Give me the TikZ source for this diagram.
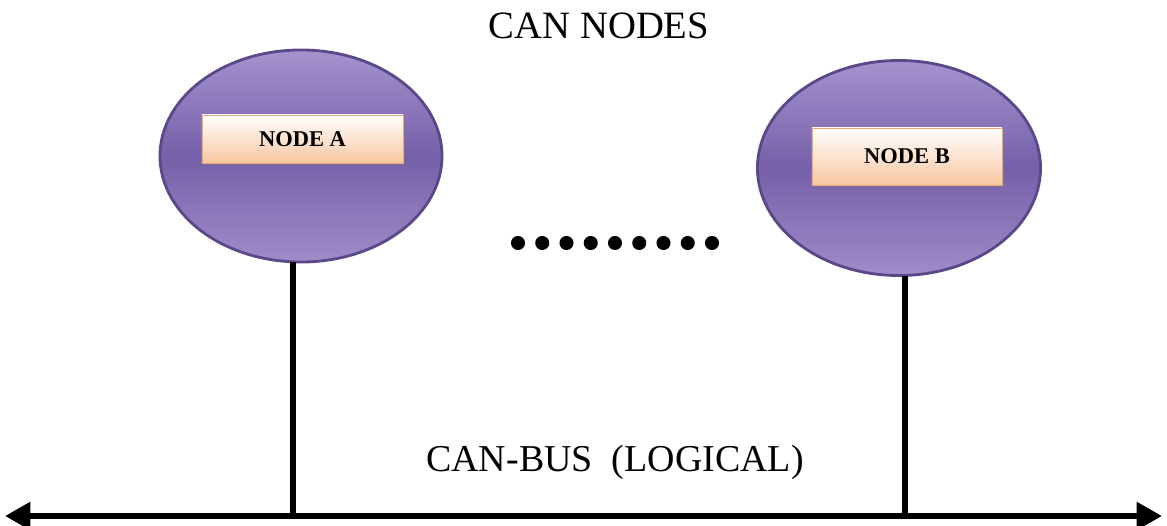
\documentclass[tikz,border=0pt]{standalone}
\usepackage{fontspec}
\setmainfont{Liberation Serif}
\usetikzlibrary{shapes.geometric,arrows.meta,shadows}
\definecolor{nodetop}{HTML}{A592CE}
\definecolor{nodemid}{HTML}{7560A9}
\definecolor{nodebot}{HTML}{A08CC9}
\definecolor{nodeedge}{HTML}{5A4889}
\definecolor{peach}{HTML}{F8C6A0}
\definecolor{peachedge}{HTML}{E9A77A}
\tikzset{
  canode/.style={ellipse, draw=nodeedge, line width=2pt, inner sep=0, outer sep=0,
    top color=nodetop, bottom color=nodebot, middle color=nodemid},
  label box/.style={rectangle, draw=peachedge, line width=0.6pt, inner sep=0,
    top color=white, bottom color=peach, font=\bfseries\fontsize{16}{16}\selectfont,
    drop shadow={shadow xshift=1.2pt, shadow yshift=-1.6pt, opacity=0.35}},
  dot/.style={inner sep=0, minimum size=10pt, fill=black, circle},
  tap/.style={line width=3.6pt},
  bus/.style={line width=4.3pt, {Triangle[length=18pt,width=19pt]}-{Triangle[length=18pt,width=19pt]}}
}

\begin{document}
\begin{tikzpicture}[x=0.025cm, y=-0.025cm]
    \useasboundingbox (0,0) rectangle (1167,526);

    \node[font=\fontsize{27.5}{27.5}\selectfont] (title) at (599,26) {CAN NODES};

    % the two nodes
    \node[canode, minimum width=7.05cm, minimum height=5.3cm] (canA) at (301,156) {};
    \node[canode, minimum width=7.075cm, minimum height=5.375cm] (canB) at (899,168) {};
    \node[label box, minimum width=5.025cm, minimum height=1.2cm] (boxA) at (302.5,139) {NODE A};
    \node[label box, minimum width=4.75cm, minimum height=1.425cm] (boxB) at (907,156.5) {NODE B};

    \foreach \x in {0,1,...,8}
    {
      \node[dot] (d\x) at (518+\x*24.25, 243) {};
    }

    % bus and taps
    \coordinate (busL) at (5,516);
    \coordinate (busR) at (1162,516);
    \coordinate (tapA) at (293,516);
    \coordinate (tapB) at (905,516);
    \draw[bus] (busL) -- (busR);
    \draw[tap] (tapA) -- (tapA |- canA.south);
    \draw[tap] (tapB) -- (tapB |- canB.south);

    \node[font=\fontsize{27}{27}\selectfont] (buslabel) at (615,462) {CAN-BUS\ \ (LOGICAL)};
\end{tikzpicture}
\end{document}
